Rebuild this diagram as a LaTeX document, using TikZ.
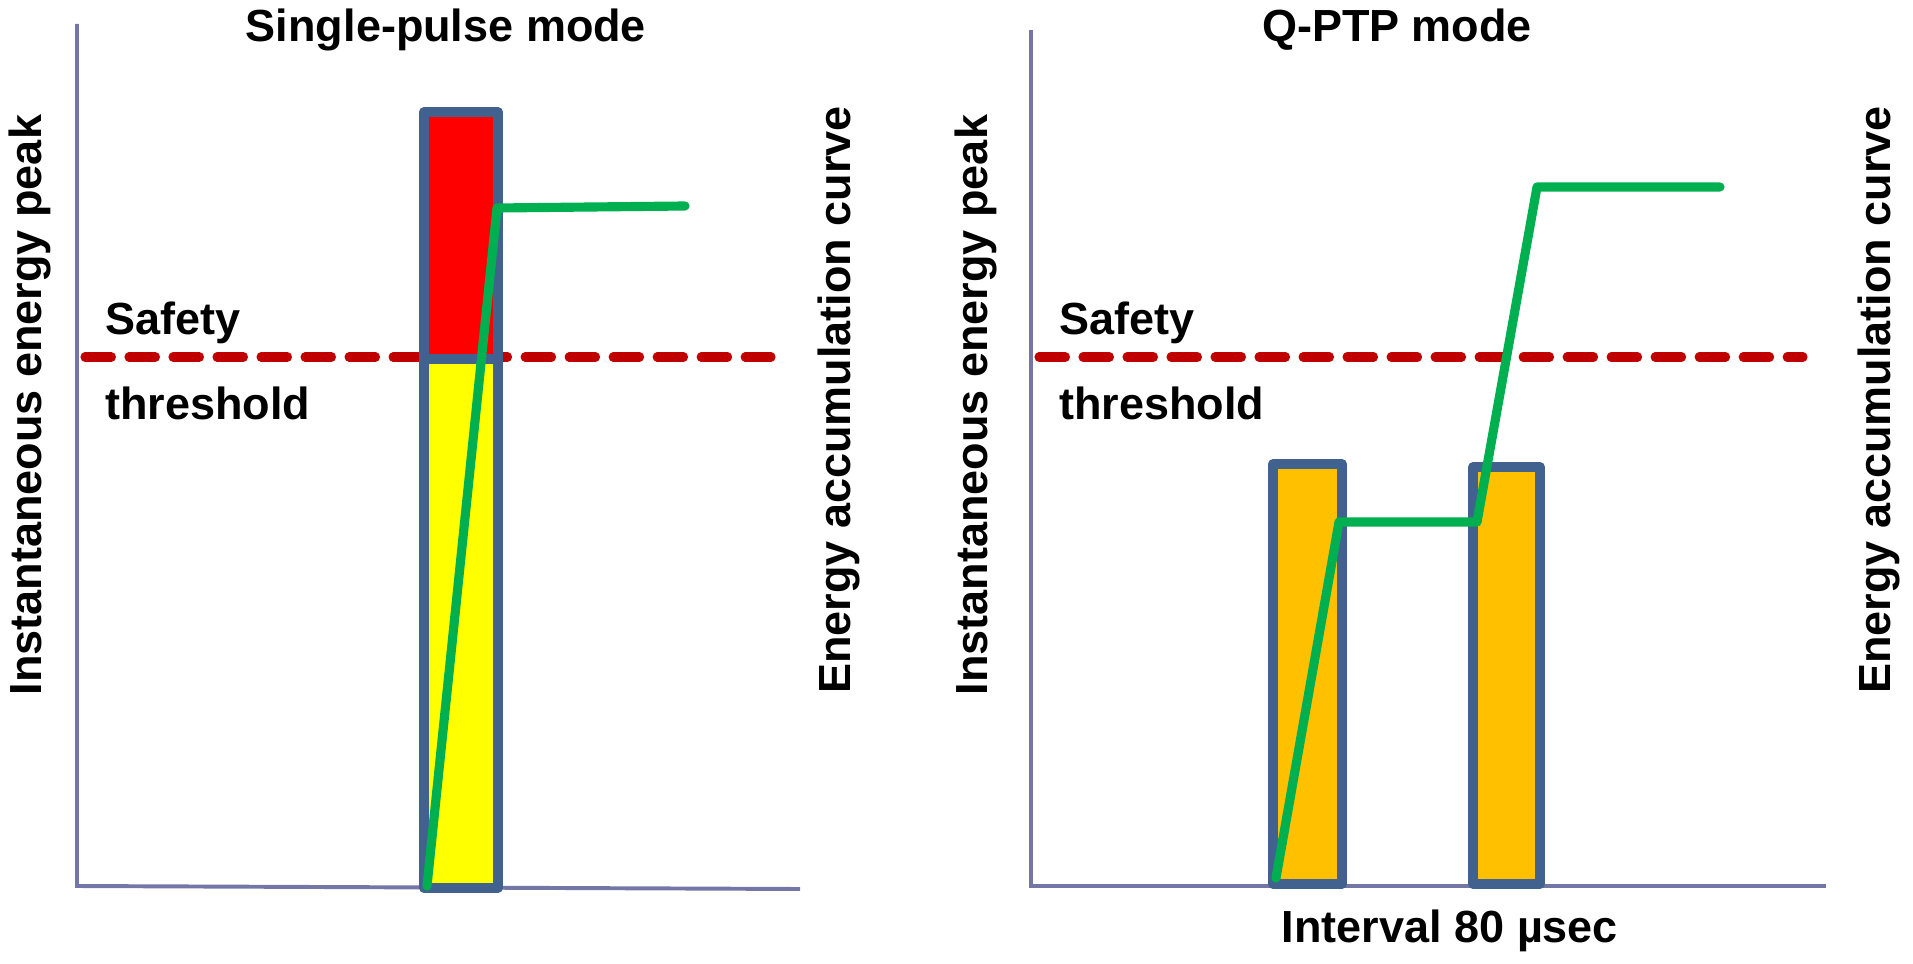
\documentclass[tikz,border=0pt]{standalone}
\usepackage{fontspec}
\setmainfont{Liberation Sans}
\definecolor{axisblue}{HTML}{7476A6}
\definecolor{barblue}{HTML}{41628E}
\definecolor{curvegreen}{HTML}{00B050}
\definecolor{limitred}{HTML}{C00000}
\definecolor{peakred}{HTML}{FF0000}
\definecolor{peakyellow}{HTML}{FFFF00}
\definecolor{pulseorange}{HTML}{FFC000}
\begin{document}
\begin{tikzpicture}[x=0.025cm, y=-0.025cm,
      axis/.style = {draw=axisblue, line width=2.8pt},
      bar/.style = {draw=barblue, line width=7pt, line join=round},
      curve/.style = {draw=curvegreen, line width=6.5pt, line join=round, line cap=round},
      limit/.style = {draw=limitred, line width=6.5pt, line cap=round, dash pattern=on 0.66cm off 0.44cm},
      lbl/.style = {font=\fontsize{32}{38}\selectfont\bfseries, inner sep=0pt},
      ylbl/.style = {lbl, rotate=90}]
    \useasboundingbox (0,0) rectangle (1913,964);

    % single-pulse panel
    \draw[axis] (77,24) -- (77,886) -- (800,889);
    \draw[limit] (85,357) -- (771,357);
    \filldraw[bar, fill=peakred] (424,112) rectangle (498,359);
    \filldraw[bar, fill=peakyellow] (424,359) rectangle (498,888);
    \coordinate (s0) at (427,886);
    \coordinate (s1) at (497,208);
    \coordinate (s2) at (685,206);
    \draw[curve] (s0) -- (s1) -- (s2);

    \node[lbl] (title1) at (446,30) {Single-pulse mode};
    \node[ylbl] (peak1) at (30,405) {Instantaneous energy peak};
    \node[ylbl] (accum1) at (839,400) {Energy accumulation curve};
    \node[lbl, anchor=base west] (safety1) at (105,335) {Safety};
    \node[lbl, anchor=base west] (thresh1) at (105,420) {threshold};

    % Q-PTP panel
    \draw[axis] (1031,30) -- (1031,886) -- (1826,886);
    \draw[limit] (1039,357) -- (1803,357);
    \filldraw[bar, fill=pulseorange] (1273,464) rectangle (1342,884);
    \filldraw[bar, fill=pulseorange] (1473,467) rectangle (1540,884);
    \coordinate (q0) at (1276,878);
    \coordinate (q1) at (1339,522);
    \coordinate (q2) at (1477,522);
    \coordinate (q3) at (1537,187);
    \coordinate (q4) at (1720,187);
    \draw[curve] (q0) -- (q1) -- (q2) -- (q3) -- (q4);

    \node[lbl] (title2) at (1397,30) {Q-PTP mode};
    \node[ylbl] (peak2) at (976,405) {Instantaneous energy peak};
    \node[ylbl] (accum2) at (1879,400) {Energy accumulation curve};
    \node[lbl, anchor=base west] (safety2) at (1059,335) {Safety};
    \node[lbl, anchor=base west] (thresh2) at (1059,420) {threshold};
    \node[lbl, anchor=base] (interval) at (1450,942) {Interval 80 µsec};
\end{tikzpicture}
\end{document}
